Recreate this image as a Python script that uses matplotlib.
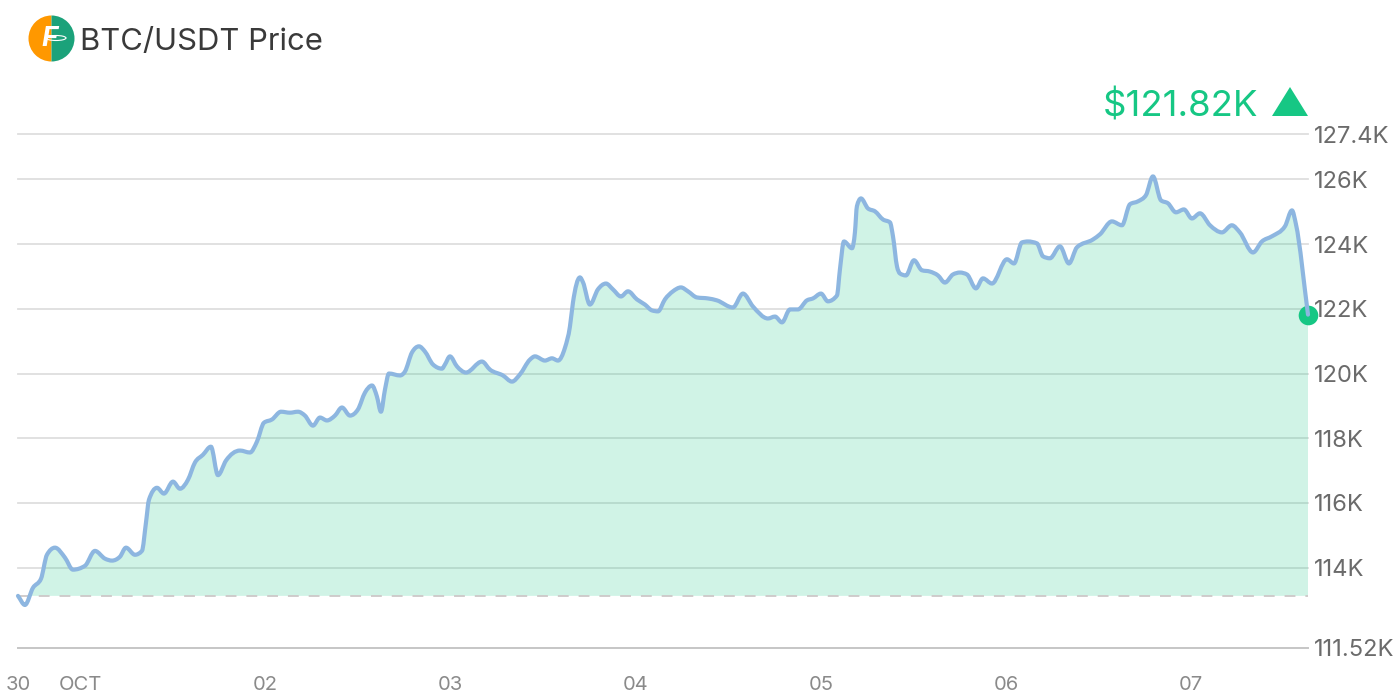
import numpy as np
import matplotlib
matplotlib.use('Agg')
import matplotlib.pyplot as plt
from matplotlib.path import Path
from matplotlib.patches import PathPatch, Polygon, Wedge, Ellipse, Rectangle

plt.rcParams['font.family'] = ['Inter', 'DejaVu Sans']

# hours since Oct 1 00:00
hours = [-8.03, -7.13, -6.09, -5.05, -4.28, -3.24, -1.94, -0.91, 0.65, 1.94, 3.24, 4.15, 5.18, 5.96, 7.13, 8.03,
         8.55, 8.94, 9.98, 10.88, 12.05, 12.96, 14.0, 14.9, 15.94, 16.97, 17.88, 18.92, 20.73, 22.03, 22.94, 23.84,
         24.88, 26.05, 27.21, 28.25, 29.15, 30.19, 31.10, 32.0, 33.04, 33.95, 34.99, 36.02, 36.93, 37.84, 38.48, 39.0,
         39.52, 40.04, 41.47, 42.11, 43.02, 43.93, 44.70, 45.74, 46.91, 47.30, 47.94, 48.85, 50.02, 52.09, 53.13, 54.81,
         55.98, 57.0, 58.31, 58.96, 60.25, 61.16, 61.94, 62.85, 63.49, 63.88, 64.79, 65.18, 66.08, 67.12, 68.16, 69.06,
         70.10, 71.01, 72.17, 73.21, 74.12, 74.90, 75.80, 76.84, 77.88, 78.78, 79.95, 81.37, 82.54, 84.61, 85.91, 87.21,
         89.15, 90.06, 90.97, 92.0, 93.04, 94.2, 94.98, 96.02, 96.92, 98.09, 98.48, 99.0, 100.04, 100.42, 100.68, 101.2,
         102.11, 103.02, 104.05, 104.96, 105.35, 105.87, 106.26, 107.03, 108.07, 109.1, 110.14, 111.18, 112.08, 113.12, 114.03, 114.94,
         116.1, 117.01, 118.18, 120.12, 121.03, 122.06, 122.84, 124.01, 124.79, 125.69, 126.99, 128.15, 129.19, 131.26, 132.17, 133.72,
         135.02, 136.06, 137.1, 138.13, 139.04, 140.08, 140.98, 142.02, 143.05, 144.09, 145.13, 146.43, 147.98, 149.26, 150.3, 152.0,
         153.16, 154.46, 156.15, 157.05, 157.57, 159.13]
price = [113.13, 112.85, 113.38, 113.66, 114.40, 114.62, 114.31, 113.94, 114.06, 114.52, 114.28, 114.22, 114.34, 114.62, 114.40, 114.52,
         115.39, 116.10, 116.47, 116.29, 116.66, 116.44, 116.72, 117.25, 117.49, 117.74, 116.86, 117.31, 117.62, 117.56, 117.90, 118.48,
         118.58, 118.82, 118.79, 118.82, 118.70, 118.39, 118.64, 118.55, 118.70, 118.95, 118.70, 118.89, 119.41, 119.63, 119.29, 118.82,
         119.50, 120.0, 119.94, 120.06, 120.65, 120.84, 120.68, 120.28, 120.15, 120.28, 120.53, 120.22, 120.03, 120.37, 120.12, 119.94,
         119.75, 119.97, 120.43, 120.53, 120.40, 120.47, 120.40, 120.80, 121.45, 122.19, 122.97, 122.82, 122.13, 122.60, 122.78, 122.60,
         122.38, 122.54, 122.29, 122.13, 121.95, 121.92, 122.29, 122.54, 122.66, 122.54, 122.35, 122.32, 122.26, 122.04, 122.47, 122.07,
         121.70, 121.76, 121.58, 121.98, 121.98, 122.26, 122.32, 122.47, 122.23, 122.41, 123.22, 124.08, 123.87, 124.36, 125.17, 125.41,
         125.10, 125.01, 124.76, 124.67, 124.24, 123.31, 123.09, 123.03, 123.50, 123.19, 123.15, 123.03, 122.81, 123.06, 123.12, 123.06,
         122.63, 122.94, 122.78, 123.53, 123.40, 124.05, 124.08, 124.02, 123.62, 123.56, 123.93, 123.40, 123.90, 124.14, 124.30, 124.70,
         124.58, 125.23, 125.32, 125.51, 126.09, 125.35, 125.26, 124.98, 125.07, 124.79, 124.95, 124.58, 124.36, 124.58, 124.36, 123.74,
         124.08, 124.24, 124.55, 125.04, 124.61, 121.82]

y_ticks = [111.52, 114, 116, 118, 120, 122, 124, 126, 127.4]
y_labels = ['111.52K', '114K', '116K', '118K', '120K', '122K', '124K', '126K', '127.4K']
x_ticks = [-8.03, 0, 24, 48, 72, 96, 120, 144]
x_labels = ['30', 'OCT', '02', '03', '04', '05', '06', '07']
baseline = 113.13
last_label = '$121.82K'


def monotone_path(x, y):
    """Bezier path through the points, same idea as d3 curveMonotoneX."""
    x = np.asarray(x)
    y = np.asarray(y)
    h = np.diff(x)
    s = np.diff(y) / h
    t = np.zeros(len(x))
    t[1:-1] = (np.sign(s[:-1]) + np.sign(s[1:])) * np.minimum(
        np.minimum(np.abs(s[:-1]), np.abs(s[1:])),
        0.5 * np.abs((h[:-1] * s[1:] + h[1:] * s[:-1]) / (h[:-1] + h[1:])))
    t[0] = s[0]
    t[-1] = s[-1]
    verts = [(x[0], y[0])]
    codes = [Path.MOVETO]
    for i in range(len(h)):
        verts.append((x[i] + h[i] / 3, y[i] + t[i] * h[i] / 3))
        verts.append((x[i + 1] - h[i] / 3, y[i + 1] - t[i + 1] * h[i] / 3))
        verts.append((x[i + 1], y[i + 1]))
        codes += [Path.CURVE4] * 3
    return verts, codes


fig = plt.figure(figsize=(14, 7), dpi=100)
ax = fig.add_axes([18 / 1400, 52 / 700, 1290 / 1400, 514 / 700])
ax.set_xlim(hours[0], hours[-1])
ax.set_ylim(y_ticks[0], y_ticks[-1])

for s in ax.spines.values():
    s.set_visible(False)
for v in y_ticks[1:]:
    ax.axhline(v, color='#dedede', lw=1.3, zorder=1, clip_on=False)
ax.axhline(y_ticks[0], color='#c6c6c6', lw=1.4, zorder=1, clip_on=False)

verts, codes = monotone_path(hours, price)

# area under the curve, only above the dashed base
fill_verts = verts + [(hours[-1], baseline), (hours[0], baseline), (hours[0], price[0])]
fill_codes = codes + [Path.LINETO, Path.LINETO, Path.CLOSEPOLY]
area = PathPatch(Path(fill_verts, fill_codes), facecolor='#16c784', alpha=0.2, edgecolor='none', zorder=2)
ax.add_patch(area)
area.set_clip_path(Rectangle((hours[0], baseline), hours[-1] - hours[0], 20, transform=ax.transData))

ax.axhline(baseline, color='#cdc8c8', lw=1.3, dashes=(6, 5.5), zorder=3)

ax.scatter([hours[-1]], [price[-1]], s=200, color='#16c784', linewidths=0, zorder=4, clip_on=False)
ax.add_patch(PathPatch(Path(verts, codes), facecolor='none', edgecolor='#8db6e0', lw=3,
                       capstyle='round', joinstyle='round', zorder=5, clip_on=False))

ax.set_yticks(y_ticks, y_labels)
ax.set_xticks(x_ticks, x_labels)
ax.tick_params(axis='y', length=0, right=True, left=False, labelright=True, labelleft=False,
               pad=4, labelsize=17, labelcolor='#6b6b6b')
ax.tick_params(axis='x', length=0, pad=20, labelsize=14.5, labelcolor='#8a8a8a')

# overlay in pixels for header items
top = fig.add_axes([0, 0, 1, 1], zorder=10)
top.set_xlim(0, 1400)
top.set_ylim(700, 0)
top.axis('off')
top.patch.set_alpha(0)

top.add_patch(Wedge((51.5, 38.5), 23, 90, 270, facecolor='#ff9800', edgecolor='none'))
top.add_patch(Wedge((51.5, 38.5), 23, -90, 90, facecolor='#1ba27a', edgecolor='none'))
top.text(50, 39, 'F', color='white', fontsize=20, fontweight='bold', style='italic', ha='center', va='center')
top.add_patch(Ellipse((56, 38), 20, 5, facecolor='none', edgecolor='white', lw=0.8))

top.text(80, 42, 'BTC/USDT Price', fontsize=22.3, color='#3a3a3a', ha='left', va='center')
top.text(1258, 106, last_label, fontsize=26.3, color='#16c784', ha='right', va='center')
top.add_patch(Polygon([(1272, 116), (1290, 87), (1308, 116)], closed=True, facecolor='#16c784', edgecolor='none'))

fig.savefig('out.png', dpi=100)
